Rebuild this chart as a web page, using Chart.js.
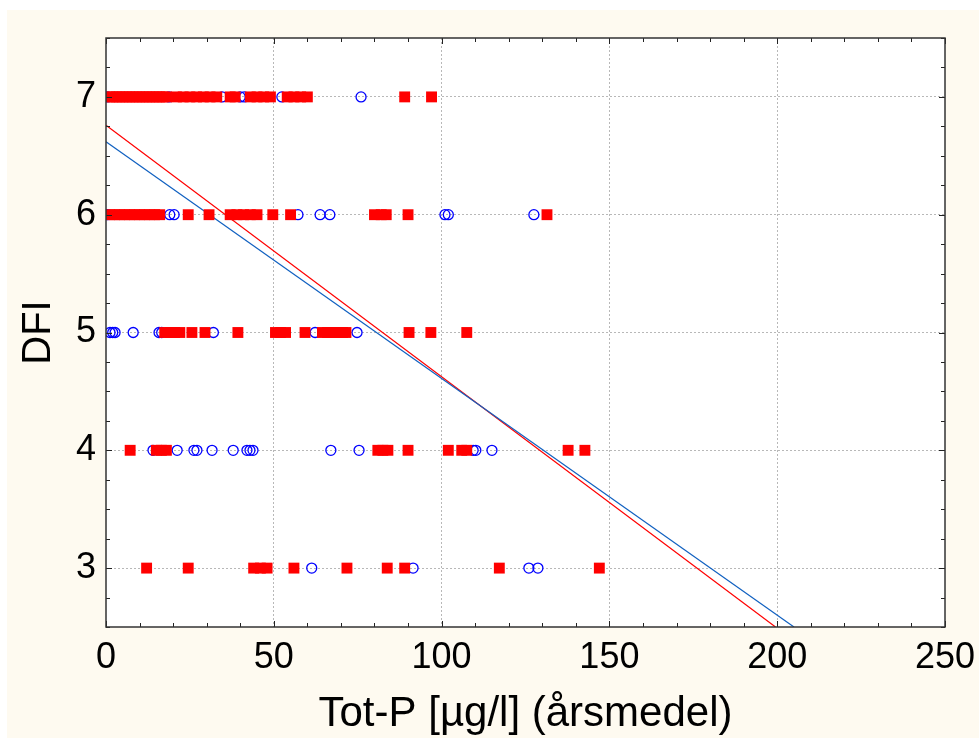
<!DOCTYPE html>
<html>
<head>
<meta charset="utf-8">
<script src="https://cdn.jsdelivr.net/npm/chart.js@4/dist/chart.umd.min.js"></script>
<style>
  html, body { margin: 0; padding: 0; background: #ffffff; }
  #wrap { width: 979px; height: 738px; }
</style>
</head>
<body>
<div id="wrap"><canvas id="c" width="979" height="738"></canvas></div>
<script>
// ---- data ----
const xTicks = [0, 50, 100, 150, 200, 250];
const yTicks = [3, 4, 5, 6, 7];

// red filled squares, by DFI level
const red7 = [1, 2, 3, 4, 5, 6, 7, 8, 9, 10, 11, 12, 13, 14, 15, 16, 17, 18, 21, 23, 25, 27, 29, 31, 33, 37, 38.5, 43, 45, 47, 49, 54, 56, 58, 60, 89, 97];
const red6 = [1, 2.5, 4, 5.5, 7, 8.5, 10, 11.5, 13, 14.5, 16, 24.5, 30.7, 37, 39, 41, 43, 45, 49.7, 55, 80, 82, 83.5, 90, 131.4];
const red5 = [17.5, 19, 20.5, 22, 25.6, 29.5, 39.3, 50.5, 52, 53.5, 59.3, 64.5, 66, 67.5, 69, 70.5, 71.5, 90.3, 96.8, 107.5];
const red4 = [7.2, 15, 16.5, 18, 81, 82.5, 84, 90, 102, 106, 107.5, 137.7, 142.7];
const red3 = [12.1, 24.5, 44, 46, 48, 56, 71.8, 83.8, 89, 117.2, 147];

// blue open circles, by DFI level
const blue7 = [0.5, 18.8, 34.6, 40, 41.2, 52.4, 76];
const blue6 = [0.5, 19, 20.3, 57.2, 63.8, 66.7, 101, 102, 127.5];
const blue5 = [1.2, 2, 2.7, 8.1, 15.8, 16.6, 32, 62.3, 74.8];
const blue4 = [14, 21.2, 26.2, 27.1, 31.6, 37.9, 42, 42.9, 43.8, 67, 75.4, 109.4, 110.2, 115];
const blue3 = [61.3, 91.5, 126, 128.7];

// regression lines (end points)
const redLineX = [0, 199.5];
const redLineY = [6.76, 2.5];
const blueLineX = [0, 205];
const blueLineY = [6.62, 2.5];

// ---- build point lists ----
function pts(xs, y) { return xs.map(x => ({ x: x, y: y })); }
const redPts = [].concat(pts(red7, 7), pts(red6, 6), pts(red5, 5), pts(red4, 4), pts(red3, 3));
const bluePts = [].concat(pts(blue7, 7), pts(blue6, 6), pts(blue5, 5), pts(blue4, 4), pts(blue3, 3));
const redLine = redLineX.map((x, i) => ({ x: x, y: redLineY[i] }));
const blueLine = blueLineX.map((x, i) => ({ x: x, y: blueLineY[i] }));

const FONT = "'Liberation Sans', Arial, sans-serif";

const bgPlugin = {
  id: 'bg',
  beforeDraw(chart) {
    const ctx = chart.ctx, a = chart.chartArea;
    ctx.save();
    ctx.fillStyle = '#ffffff';
    ctx.fillRect(0, 0, chart.width, chart.height);
    ctx.fillStyle = '#fefaf0';
    ctx.fillRect(7, 10, chart.width - 7, chart.height - 10);
    ctx.fillStyle = '#ffffff';
    ctx.fillRect(a.left, a.top, a.right - a.left, a.bottom - a.top);
    ctx.restore();
  }
};

const framePlugin = {
  id: 'frame',
  afterDraw(chart) {
    const ctx = chart.ctx, a = chart.chartArea;
    const xs = chart.scales.x, ys = chart.scales.y;
    ctx.save();
    ctx.strokeStyle = '#222222';
    ctx.lineWidth = 1;
    ctx.beginPath();
    for (let v = 0; v <= 250; v += 10) {
      const px = Math.round(xs.getPixelForValue(v)) + 0.5;
      const len = (v % 50 === 0) ? 6 : 4;
      ctx.moveTo(px, a.bottom); ctx.lineTo(px, a.bottom - len);
      ctx.moveTo(px, a.top); ctx.lineTo(px, a.top + len);
    }
    for (let v = 2.5; v <= 7.5001; v += 0.25) {
      const py = Math.round(ys.getPixelForValue(v)) + 0.5;
      const len = (Math.abs(v - Math.round(v)) < 1e-6) ? 6 : 4;
      ctx.moveTo(a.left, py); ctx.lineTo(a.left + len, py);
      ctx.moveTo(a.right, py); ctx.lineTo(a.right - len, py);
    }
    ctx.stroke();
    ctx.lineWidth = 1.5;
    ctx.strokeStyle = '#333333';
    ctx.strokeRect(a.left, a.top, a.right - a.left, a.bottom - a.top);
    ctx.restore();
  }
};

new Chart(document.getElementById('c'), {
  type: 'scatter',
  data: {
    datasets: [
      {
        label: 'red',
        data: redPts,
        order: 0,
        pointStyle: 'rect',
        pointRadius: 7.7,
        pointBorderWidth: 0,
        backgroundColor: '#ff0000',
        borderColor: '#ff0000'
      },
      {
        label: 'blue',
        data: bluePts,
        order: 1,
        pointStyle: 'circle',
        pointRadius: 5,
        pointBorderWidth: 1.3,
        backgroundColor: 'rgba(0,0,0,0)',
        borderColor: '#0000ff'
      },
      {
        label: 'redfit',
        type: 'line',
        data: redLine,
        order: 3,
        showLine: true,
        pointRadius: 0,
        borderWidth: 1.2,
        borderColor: '#ff0000',
        fill: false,
        tension: 0
      },
      {
        label: 'bluefit',
        type: 'line',
        data: blueLine,
        order: 2,
        showLine: true,
        pointRadius: 0,
        borderWidth: 1.2,
        borderColor: '#1060c0',
        fill: false,
        tension: 0
      }
    ]
  },
  options: {
    responsive: false,
    animation: false,
    events: [],
    layout: { padding: { left: 0, top: 38, right: 34, bottom: 0 } },
    plugins: { legend: { display: false }, tooltip: { enabled: false } },
    scales: {
      x: {
        type: 'linear',
        min: 0, max: 250,
        afterFit(s) { s.height = 111; s.paddingLeft = 0; s.paddingRight = 0; },
        afterBuildTicks(s) { s.ticks = xTicks.map(v => ({ value: v })); },
        border: { display: false, dash: [2, 2] },
        grid: {
          drawTicks: false,
          color: (c) => (c.tick && (c.tick.value === 0 || c.tick.value === 250)) ? 'rgba(0,0,0,0)' : '#b8b8b8',
          lineWidth: 1
        },
        ticks: {
          padding: 9,
          color: '#000000',
          font: { family: FONT, size: 36 },
          maxRotation: 0
        },
        title: {
          display: true,
          text: 'Tot-P [µg/l] (årsmedel)',
          color: '#000000',
          font: { family: FONT, size: 42, lineHeight: 1.1 },
          padding: { top: 0, bottom: 0 }
        }
      },
      y: {
        type: 'linear',
        min: 2.5, max: 7.5,
        afterFit(s) { s.width = 106; s.paddingTop = 0; s.paddingBottom = 0; },
        afterBuildTicks(s) { s.ticks = yTicks.map(v => ({ value: v })); },
        border: { display: false, dash: [2, 2] },
        grid: {
          drawTicks: false,
          color: '#b8b8b8',
          lineWidth: 1
        },
        ticks: {
          padding: 10,
          color: '#000000',
          font: { family: FONT, size: 36 }
        },
        title: {
          display: true,
          text: 'DFI',
          color: '#000000',
          font: { family: FONT, size: 40, lineHeight: 1.2 },
          padding: { top: 15, bottom: 0 }
        }
      }
    }
  },
  plugins: [bgPlugin, framePlugin]
});
</script>
</body>
</html>
